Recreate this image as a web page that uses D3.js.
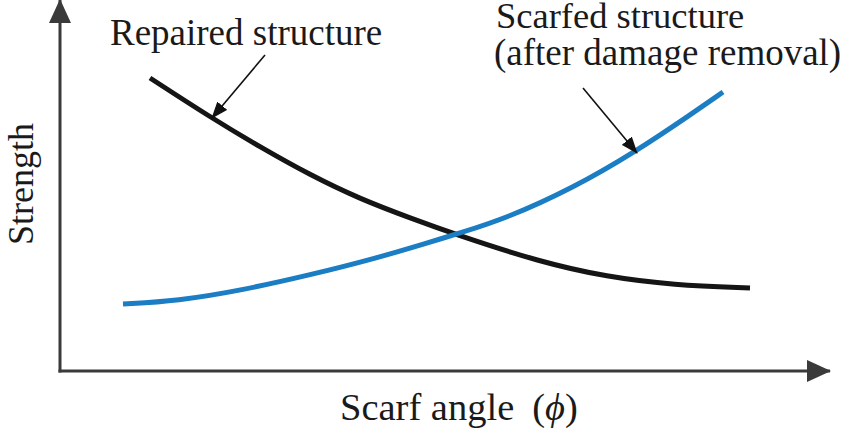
<!DOCTYPE html>
<html>
<head>
<meta charset="utf-8">
<script src="https://cdn.jsdelivr.net/npm/d3@7"></script>
<style>
  body { margin: 0; background: #fff; }
  text { font-family: "Liberation Serif", "Times New Roman", serif; fill: #1a1a1a; }
</style>
</head>
<body>
<div id="chart"></div>
<script>
// schematic curves, arbitrary units (scarf angle vs strength)
const repairedAngle    = [9, 15, 20, 25, 30, 35, 39.7, 48, 54.7, 61.3, 69];
const repairedStrength = [29.3, 25.4, 22.4, 19.6, 17.2, 15.3, 13.6, 10.9, 9.4, 8.6, 8.3];

const scarfedAngle    = [6.3, 11.7, 18.3, 25, 31.7, 36.7, 40, 44.7, 51.3, 57.5, 63, 66.3];
const scarfedStrength = [6.7, 7.0, 8.1, 9.6, 11.3, 12.8, 13.8, 15.3, 18.3, 21.9, 25.6, 27.9];

// annotation arrows: [tailAngle, tailStrength, tipAngle, tipStrength]
const repairedArrow = [20.5, 31.6, 15.2, 25.3];
const scarfedArrow  = [52.3, 28.3, 57.7, 21.8];

const xLabel = "Scarf angle";
const yLabel = "Strength";

const width = 843;
const height = 430;

const x = d3.scaleLinear().domain([0, 77]).range([60, 830]);
const y = d3.scaleLinear().domain([0, 37.1]).range([371, 0]);

const svg = d3.select("#chart").append("svg")
  .attr("width", width)
  .attr("height", height)
  .attr("viewBox", [0, 0, width, height]);

const defs = svg.append("defs");

// big axis arrowheads
defs.append("marker")
  .attr("id", "axis-head")
  .attr("markerUnits", "userSpaceOnUse")
  .attr("viewBox", "0 0 24 22")
  .attr("refX", 23)
  .attr("refY", 11)
  .attr("markerWidth", 24)
  .attr("markerHeight", 22)
  .attr("orient", "auto")
  .append("path")
    .attr("d", "M0,0L24,11L0,22Z")
    .attr("fill", "#3a3a3a");

// small arrowheads for annotations
defs.append("marker")
  .attr("id", "note-head")
  .attr("markerUnits", "userSpaceOnUse")
  .attr("viewBox", "0 0 17 13")
  .attr("refX", 16)
  .attr("refY", 6.5)
  .attr("markerWidth", 17)
  .attr("markerHeight", 13)
  .attr("orient", "auto")
  .append("path")
    .attr("d", "M0,0L17,6.5L0,13Z")
    .attr("fill", "#111");

// axes (no ticks, just arrows)
const xDom = x.domain();
const yDom = y.domain();

svg.append("line")
  .attr("x1", x(0) - 1.5).attr("y1", y(0))
  .attr("x2", x(xDom[1])).attr("y2", y(0))
  .attr("stroke", "#3a3a3a")
  .attr("stroke-width", 3)
  .attr("marker-end", "url(#axis-head)");

svg.append("line")
  .attr("x1", x(0)).attr("y1", y(0) + 1.5)
  .attr("x2", x(0)).attr("y2", y(yDom[1]))
  .attr("stroke", "#3a3a3a")
  .attr("stroke-width", 3)
  .attr("marker-end", "url(#axis-head)");

const line = d3.line()
  .x(d => x(d[0]))
  .y(d => y(d[1]))
  .curve(d3.curveBasis);

svg.append("path")
  .datum(d3.zip(repairedAngle, repairedStrength))
  .attr("d", line)
  .attr("fill", "none")
  .attr("stroke", "#151515")
  .attr("stroke-width", 5);

svg.append("path")
  .datum(d3.zip(scarfedAngle, scarfedStrength))
  .attr("d", line)
  .attr("fill", "none")
  .attr("stroke", "#1b7dc3")
  .attr("stroke-width", 5);

[repairedArrow, scarfedArrow].forEach(a => {
  svg.append("line")
    .attr("x1", x(a[0])).attr("y1", y(a[1]))
    .attr("x2", x(a[2])).attr("y2", y(a[3]))
    .attr("stroke", "#111")
    .attr("stroke-width", 1.6)
    .attr("marker-end", "url(#note-head)");
});

// labels
svg.append("text")
  .attr("x", 110).attr("y", 45)
  .attr("font-size", 37)
  .text("Repaired structure");

svg.append("text")
  .attr("x", 496).attr("y", 28)
  .attr("font-size", 36.5)
  .text("Scarfed structure");

svg.append("text")
  .attr("x", 494).attr("y", 65)
  .attr("font-size", 37)
  .text("(after damage removal)");

const xl = svg.append("text")
  .attr("x", 340).attr("y", 420)
  .attr("font-size", 38.5);
xl.append("tspan").text(xLabel);
xl.append("tspan").attr("dx", 18).text("(");
xl.append("tspan").attr("font-style", "italic").text("\u03D5");
xl.append("tspan").text(")");

svg.append("text")
  .attr("transform", "translate(33,184) rotate(-90)")
  .attr("text-anchor", "middle")
  .attr("font-size", 36)
  .text(yLabel);
</script>
</body>
</html>
